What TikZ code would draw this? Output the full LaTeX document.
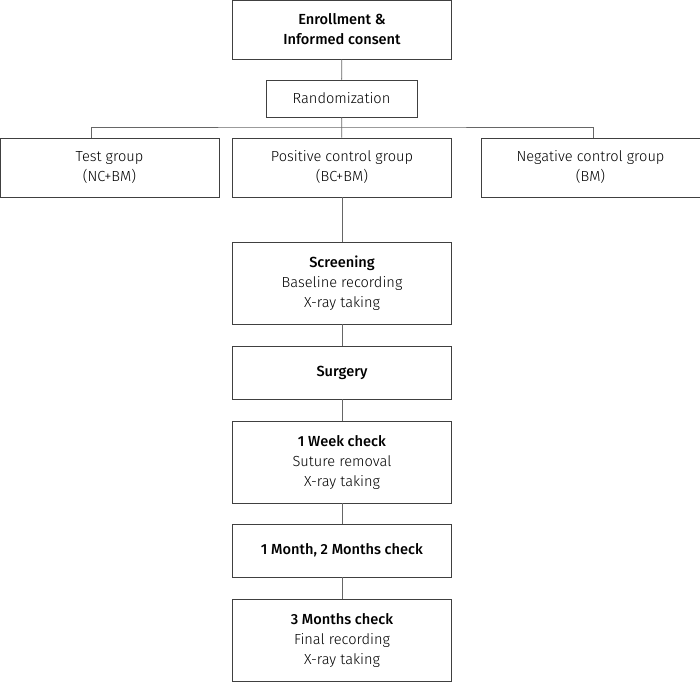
\documentclass[tikz,border=0pt]{standalone}
\usepackage{fontspec}
\setmainfont{Fira Sans}[UprightFont=* Light, BoldFont=* Medium]
\tikzset{
  box/.style={draw=black!75, line width=.8pt, text=black, align=center,
    minimum width=219pt, inner sep=0pt, font=\fontsize{14.6}{20}\selectfont},
  link/.style={draw=black!60, line width=.8pt}
}
\begin{document}
\begin{tikzpicture}[x=1pt,y=-1pt]
   \useasboundingbox (0,0) rectangle (700,682);
   \node[box, minimum height=59pt] (enroll) at (342,29.5) {\textbf{Enrollment \&}\\\textbf{Informed consent}};
   \node[box, minimum width=151pt, minimum height=37pt] (random) at (341.5,98.5) {Randomization};
   \node[box, minimum height=59pt] (test) at (109.5,167.5) {Test group\\(NC+BM)};
   \node[box, minimum height=59pt] (positive) at (342,167.5) {Positive control group\\(BC+BM)};
   \node[box, minimum height=59pt] (negative) at (590.5,167.5) {Negative control group\\(BM)};
   \node[box, minimum height=82pt] (screen) at (342,283) {\textbf{Screening}\\Baseline recording\\X-ray taking};
   \node[box, minimum height=53pt] (surgery) at (342,372.5) {\textbf{Surgery}};
   \node[box, minimum height=82pt] (week) at (342,462) {\textbf{1 Week check}\\Suture removal\\X-ray taking};
   \node[box, minimum height=53pt] (month) at (342,550.5) {\textbf{1 Month, 2 Months check}};
   \node[box, minimum height=82pt] (final) at (342,640) {\textbf{3 Months check}\\Final recording\\X-ray taking};
   \coordinate (split) at (342,127);
   % connectors
   \draw[link] (enroll) -- (random);
   \draw[link] (random) -- (positive);
   \draw[link] ([xshift=-18.5pt]test.north) |- (split) -| ([xshift=2.5pt]negative.north);
   \draw[link] (positive) -- (screen);
   \draw[link] (screen) -- (surgery);
   \draw[link] (surgery) -- (week);
   \draw[link] (week) -- (month);
   \draw[link] (month) -- (final);
\end{tikzpicture}
\end{document}
